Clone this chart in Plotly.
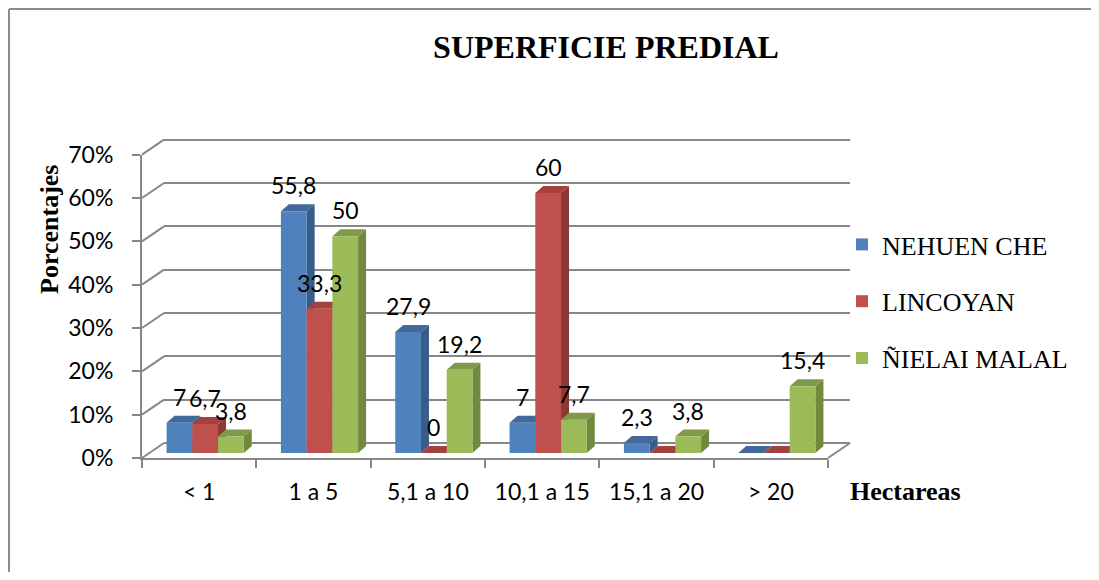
import plotly.graph_objects as go

categorias = ['< 1', '1 a 5', '5,1 a 10', '10,1 a 15', '15,1 a 20', '> 20']
series = ['NEHUEN CHE', 'LINCOYAN', 'ÑIELAI MALAL']
nehuen_che = [7, 55.8, 27.9, 7, 2.3, None]
lincoyan = [6.7, 33.3, 0, 60, None, None]
nielai_malal = [3.8, 50, 19.2, 7.7, 3.8, 15.4]
y_ticks = [0, 10, 20, 30, 40, 50, 60, 70]
y_ticktext = [f'{t}%' for t in y_ticks]

valores = [nehuen_che, lincoyan, nielai_malal]
frente = ['#4F81BD', '#C0504D', '#9BBB59']
lado = ['#385D8A', '#8C3836', '#71893F']
tapa = ['#41699A', '#A4413E', '#80994A']

# la pagina tiene un margen de 8 px: la figura ocupa el resto de la ventana
PAGE_W, PAGE_H, BODY = 1099, 580, 8
W, H = PAGE_W - 2 * BODY, PAGE_H - 2 * BODY
def fx(px):
    return (px - BODY) / W
def fy(py):
    return 1 - (py - BODY) / H

# geometria del grafico 3D (pixeles de la ventana)
ppu = 4.3333          # pixeles por punto porcentual
front_x0, front_x1, front_y0 = 142, 828, 458
back_dx, back_dy = 22, 15
bar_dx, bar_y0 = 6, 453
ymax = 70
pad = 0.4             # margen del rango para que se vean las lineas de 0% y 70%

bar_w = 0.225
dx = 8 / ((front_x1 - front_x0) / len(categorias))
dy = 7 / ppu

fig = go.Figure()
x_idx = list(range(len(categorias)))

# trazas vacias para que se dibujen la pared del fondo y los ejes frontales
fig.add_trace(go.Scatter(x=[], y=[], xaxis='x', yaxis='y', showlegend=False, hoverinfo='skip'))

shapes = []
annotations = []
for k, (nombre, vals) in enumerate(zip(series, valores)):
    fig.add_trace(go.Bar(
        x=x_idx, y=[v if v is not None else 0 for v in vals], name=nombre,
        marker=dict(color=frente[k], line=dict(width=0)),
        xaxis='x2', yaxis='y2', legendgroup=nombre, hoverinfo='name+y'))
    off = (k - 1) * bar_w
    for i, v in enumerate(vals):
        h = v if v is not None else 0
        xl = i + off - bar_w / 2
        xr = i + off + bar_w / 2
        shapes.append(dict(type='path', xref='x2', yref='y2', layer='below',
                           path=f'M{xr},0 L{xr+dx},{dy} L{xr+dx},{h+dy} L{xr},{h} Z',
                           fillcolor=lado[k], line=dict(width=0)))
        shapes.append(dict(type='path', xref='x2', yref='y2', layer='below',
                           path=f'M{xl},{h} L{xl+dx},{h+dy} L{xr+dx},{h+dy} L{xr},{h} Z',
                           fillcolor=tapa[k], line=dict(width=0)))
        if v is not None:
            annotations.append(dict(x=i + off, y=v, xref='x2', yref='y2', yshift=26,
                                    text=f'{v:g}'.replace('.', ','), showarrow=False,
                                    font=dict(family='Lato', size=23, color='black')))

fig.add_trace(go.Scatter(x=[], y=[], xaxis='x3', yaxis='y3', showlegend=False, hoverinfo='skip'))

# paredes: diagonales de la pared izquierda y del piso
grid_col = '#878787'
for t in y_ticks:
    shapes.append(dict(type='line', xref='paper', yref='paper', layer='below',
                       x0=fx(front_x0), y0=fy(front_y0 - t * ppu),
                       x1=fx(front_x0 + back_dx), y1=fy(front_y0 - back_dy - t * ppu),
                       line=dict(color=grid_col, width=2)))
shapes.append(dict(type='line', xref='paper', yref='paper', layer='below',
                   x0=fx(front_x1), y0=fy(front_y0),
                   x1=fx(front_x1 + back_dx), y1=fy(front_y0 - back_dy),
                   line=dict(color=grid_col, width=2)))
# marco del grafico (solo borde superior e izquierdo, como en el original)
borde = '#8C8C8C'
shapes.append(dict(type='line', xref='paper', yref='paper', layer='below',
                   x0=fx(BODY + 1), y0=fy(BODY + 1), x1=fx(PAGE_W), y1=fy(BODY + 1),
                   line=dict(color=borde, width=2)))
shapes.append(dict(type='line', xref='paper', yref='paper', layer='below',
                   x0=fx(BODY + 1), y0=fy(BODY + 1), x1=fx(BODY + 1), y1=fy(PAGE_H),
                   line=dict(color=borde, width=2)))

annotations.append(dict(text='<b>Porcentajes</b>', xref='paper', yref='paper',
                        x=fx(50), y=fy(230), xanchor='center', yanchor='middle',
                        textangle=-90, showarrow=False,
                        font=dict(family='Liberation Serif', size=26, color='black')))
annotations.append(dict(text='<b>Hectareas</b>', xref='paper', yref='paper',
                        x=fx(905), y=fy(491), xanchor='center', yanchor='middle',
                        showarrow=False,
                        font=dict(family='Liberation Serif', size=26, color='black')))

back_y0 = front_y0 - back_dy
fig.update_layout(
    width=W, height=H,
    margin=dict(l=0, r=0, t=0, b=0, autoexpand=False),
    font=dict(family='Liberation Serif', color='black'),
    paper_bgcolor='white', plot_bgcolor='rgba(0,0,0,0)',
    barmode='group', bargap=1 - 3 * bar_w, bargroupgap=0,
    title=dict(text='<b>SUPERFICIE PREDIAL</b>', x=fx(606), y=fy(47),
               xanchor='center', yanchor='middle',
               font=dict(family='Liberation Serif', size=32, color='black')),
    legend=dict(x=fx(842), y=fy(221), xanchor='left', yanchor='top',
                tracegroupgap=20, bgcolor='rgba(0,0,0,0)',
                font=dict(family='Liberation Serif', size=26, color='black')),
    shapes=shapes, annotations=annotations,
    # pared del fondo (cuadricula)
    xaxis=dict(domain=[fx(front_x0 + back_dx), fx(front_x1 + back_dx)], range=[0, 1],
               anchor='y', showgrid=False, showticklabels=False, zeroline=False,
               ticks='', showline=False, automargin=False),
    yaxis=dict(domain=[fy(back_y0 + pad * ppu), fy(back_y0 - (ymax + pad) * ppu)],
               range=[-pad, ymax + pad], anchor='x', tickvals=y_ticks, showgrid=True,
               gridcolor=grid_col, gridwidth=2, showticklabels=False, zeroline=False,
               ticks='', showline=False, automargin=False),
    # barras
    xaxis2=dict(domain=[fx(front_x0 + bar_dx), fx(front_x1 + bar_dx)],
                range=[-0.5, len(categorias) - 0.5], anchor='y2', visible=False,
                automargin=False),
    yaxis2=dict(domain=[fy(bar_y0), fy(bar_y0 - ymax * ppu)], range=[0, ymax],
                anchor='x2', visible=False, automargin=False),
    # ejes frontales
    xaxis3=dict(domain=[fx(front_x0), fx(front_x1)], range=[-0.5, len(categorias) - 0.5],
                anchor='y3', tickvals=x_idx, ticktext=categorias, ticks='',
                showline=True, linecolor=grid_col, linewidth=2, showgrid=False,
                zeroline=False, ticklabelstandoff=12, automargin=False,
                minor=dict(tickvals=[i - 0.5 for i in range(len(categorias) + 1)],
                           ticks='outside', ticklen=8, tickcolor=grid_col, tickwidth=2),
                tickfont=dict(family='Lato', size=23, color='black')),
    yaxis3=dict(domain=[fy(front_y0), fy(front_y0 - ymax * ppu)], range=[0, ymax],
                anchor='x3', tickvals=y_ticks, ticktext=y_ticktext, ticks='outside',
                ticklen=8, tickcolor=grid_col, tickwidth=2, showline=True,
                linecolor=grid_col, linewidth=2, showgrid=False, zeroline=False,
                ticklabelstandoff=14, automargin=False,
                tickfont=dict(family='Lato', size=23, color='black')),
)

fig.write_html('out.html')
